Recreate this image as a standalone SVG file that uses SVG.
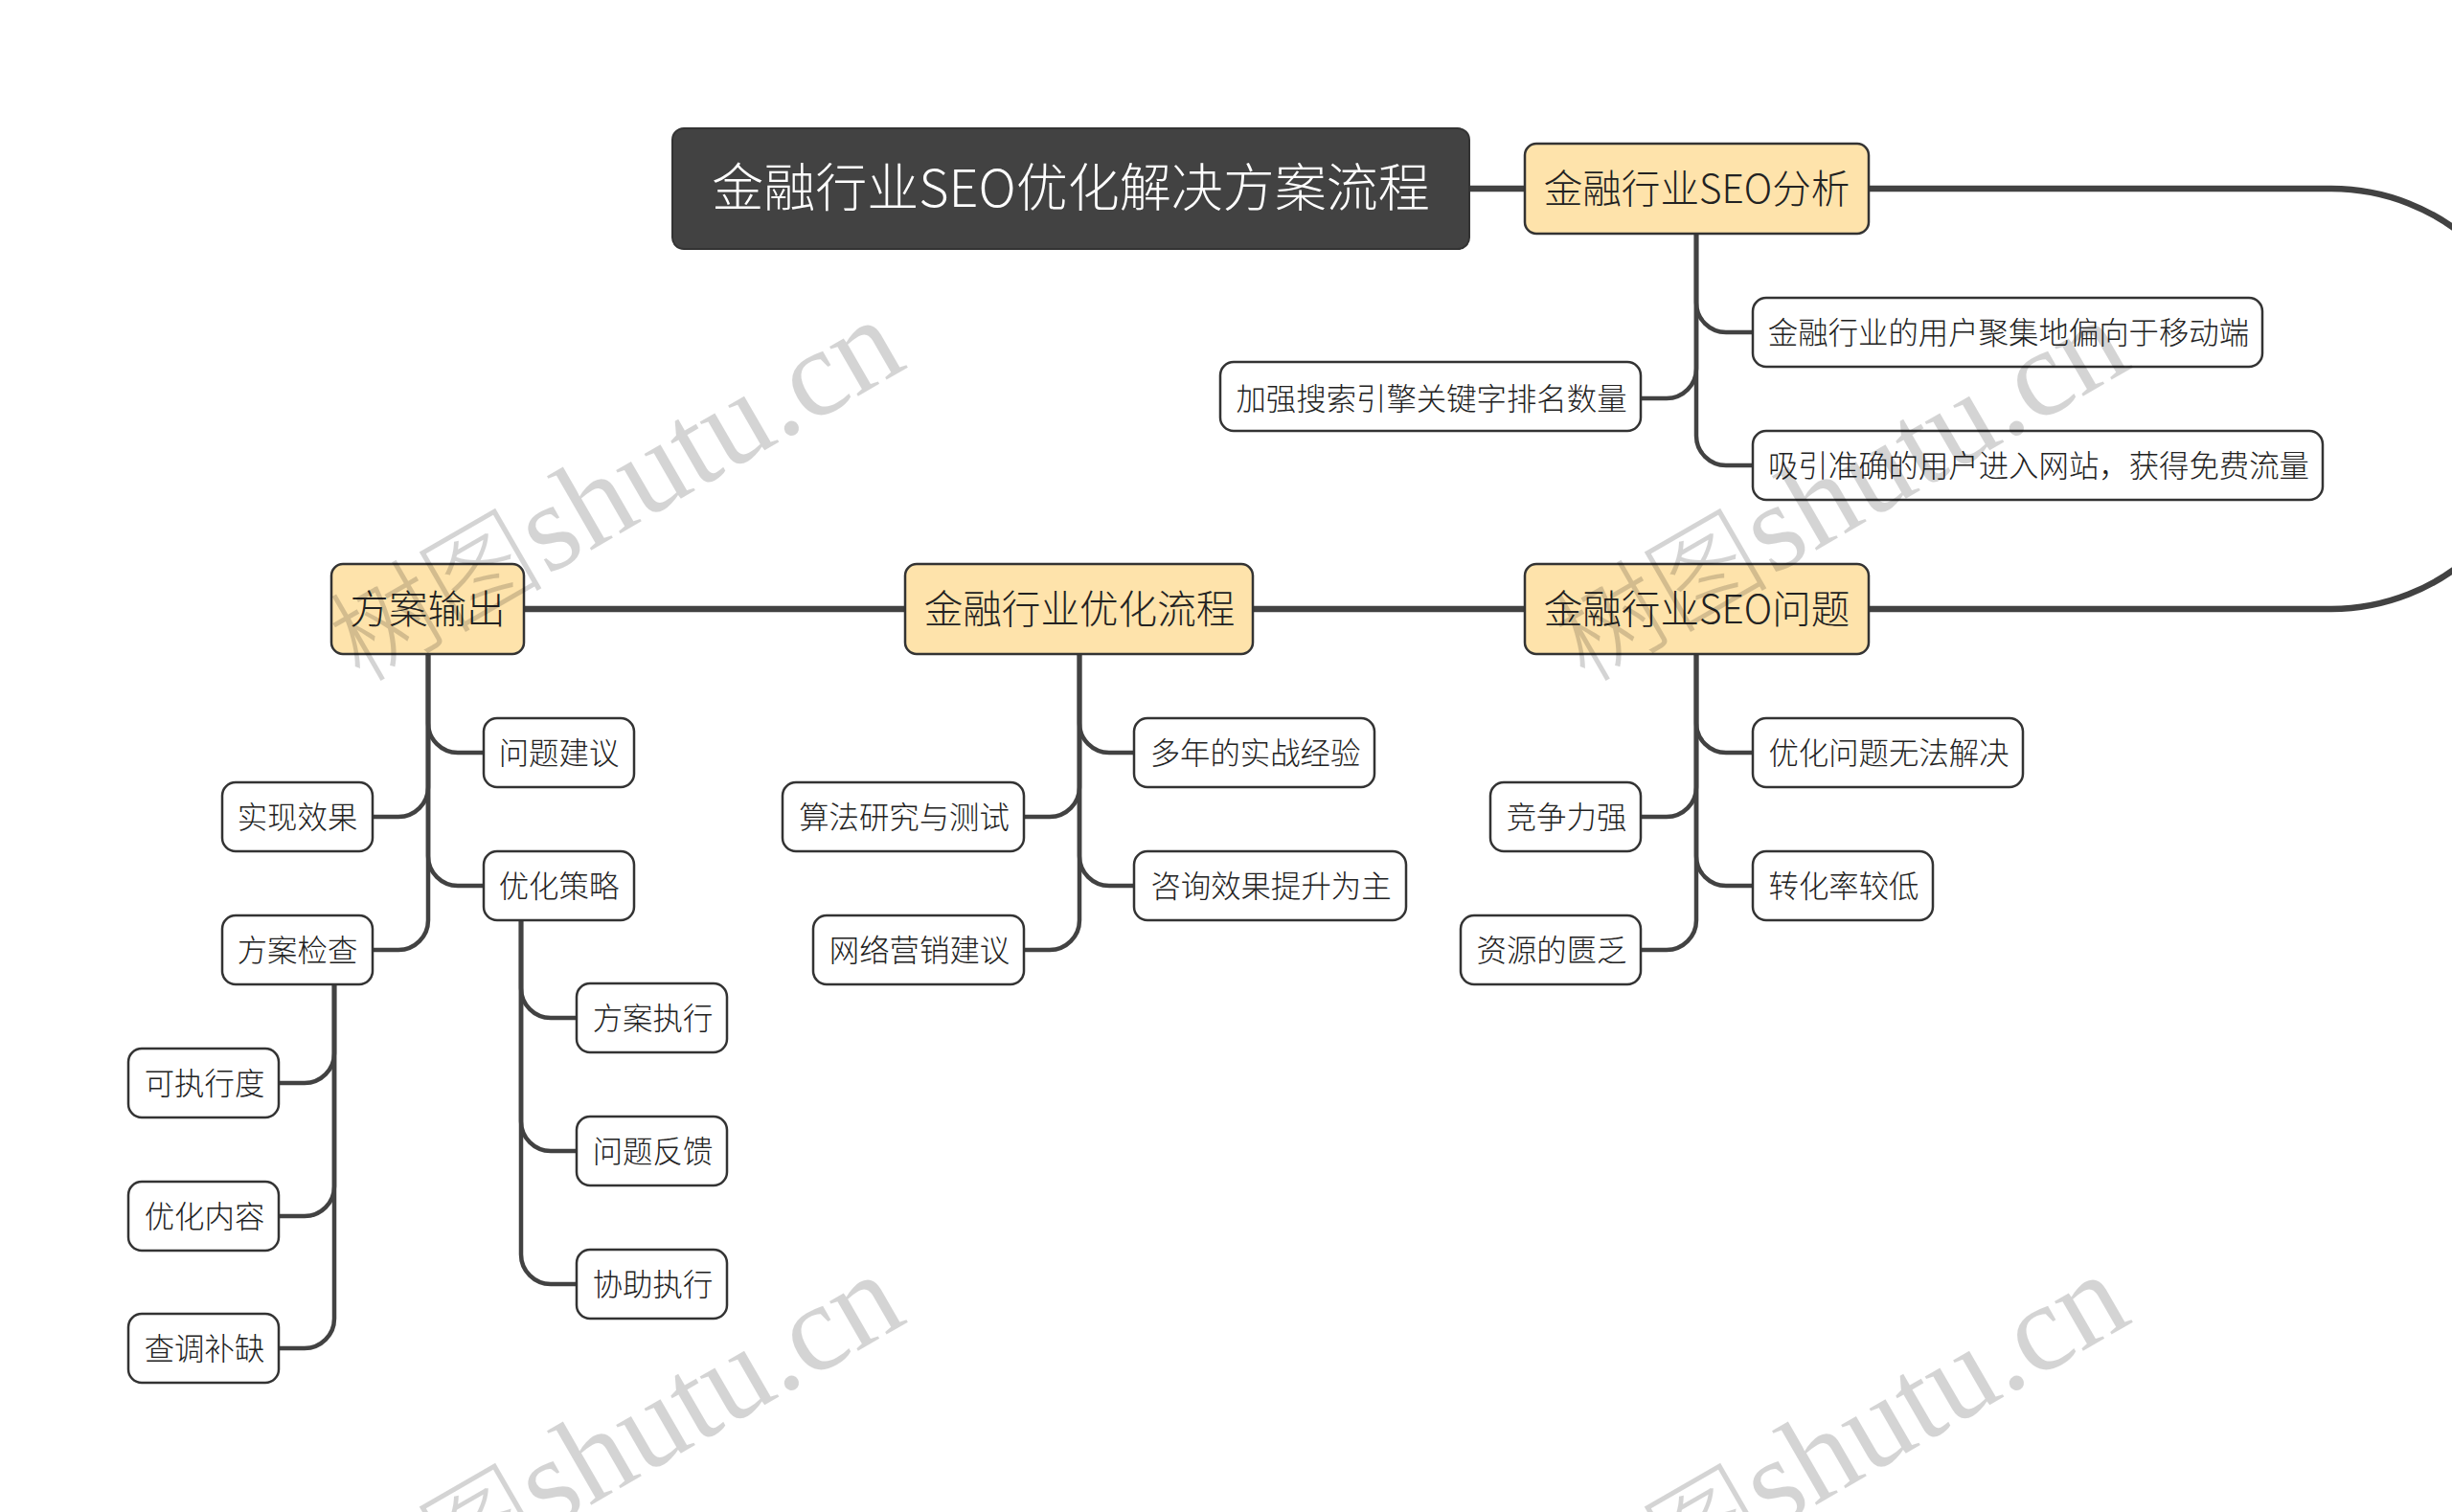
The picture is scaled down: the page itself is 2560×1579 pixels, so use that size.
<svg xmlns="http://www.w3.org/2000/svg" width="2560" height="1579" viewBox="0 0 2560 1579">
<style>
text{font-family:"Noto Sans CJK SC","Liberation Sans",sans-serif;text-anchor:middle;fill:#222}
.root rect{fill:#424242;stroke:#333;stroke-width:2}
.root text{fill:#fff;font-size:54px;font-weight:300}
.main rect{fill:#fee3ab;stroke:#333;stroke-width:2.5}
.main text{font-size:40.600px;font-weight:300}
.leaf rect{fill:#fff;stroke:#333;stroke-width:2.5}
.leaf text{font-size:31.4px;font-weight:300}
#connectors path{fill:none;stroke:#424242;stroke-width:4.500;stroke-linecap:round}
#connectors .thick{stroke-width:6.500}
.wm text{font-family:"Liberation Serif","Noto Sans CJK SC",serif;font-size:130px;text-anchor:start;fill:#000;fill-opacity:.17}
.wm tspan.cjk{font-family:"Noto Sans CJK SC",serif;font-size:112px;font-weight:300}
</style>
<rect width="2560" height="1579" fill="#fff"/>
<g id="connectors">
<path class="thick" d="M1535 197H1592"/>
<path class="thick" d="M1951 197H2434A219.500 219.500 0 0 1 2434 636H1951"/>
<path class="thick" d="M1592 636H1308"/>
<path class="thick" d="M945 636H547"/>
<path d="M1771 244V316A31 31 0 0 0 1802 347H1830"/>
<path d="M1771 244V385A31 31 0 0 1 1740 416H1713"/>
<path d="M1771 244V455A31 31 0 0 0 1802 486H1830"/>
<path d="M1771 683V755A31 31 0 0 0 1802 786H1830"/>
<path d="M1771 683V822A31 31 0 0 1 1740 853H1713"/>
<path d="M1771 683V894A31 31 0 0 0 1802 925H1830"/>
<path d="M1771 683V961A31 31 0 0 1 1740 992H1713"/>
<path d="M1127 683V755A31 31 0 0 0 1158 786H1184"/>
<path d="M1127 683V822A31 31 0 0 1 1096 853H1069"/>
<path d="M1127 683V894A31 31 0 0 0 1158 925H1184"/>
<path d="M1127 683V961A31 31 0 0 1 1096 992H1069"/>
<path d="M447 683V755A31 31 0 0 0 478 786H505"/>
<path d="M447 683V822A31 31 0 0 1 416 853H389"/>
<path d="M447 683V894A31 31 0 0 0 478 925H505"/>
<path d="M447 683V961A31 31 0 0 1 416 992H389"/>
<path d="M349 1028V1100A31 31 0 0 1 318 1131H291"/>
<path d="M349 1028V1239A31 31 0 0 1 318 1270H291"/>
<path d="M349 1028V1377A31 31 0 0 1 318 1408H291"/>
<path d="M544 961V1032A31 31 0 0 0 575 1063H602"/>
<path d="M544 961V1171A31 31 0 0 0 575 1202H602"/>
<path d="M544 961V1310A31 31 0 0 0 575 1341H602"/>
</g>
<g id="root" class="root"><rect x="702" y="134" width="832" height="126" rx="12"/><text x="1118" y="216">金融行业SEO优化解决方案流程</text></g>
<g id="n1" class="main"><rect x="1592" y="150" width="359" height="94" rx="12"/><text x="1771.500" y="211.500">金融行业SEO分析</text></g>
<g id="n2" class="main"><rect x="1592" y="589" width="359" height="94" rx="12"/><text x="1771.500" y="650.500">金融行业SEO问题</text></g>
<g id="n3" class="main"><rect x="945" y="589" width="363" height="94" rx="12"/><text x="1127" y="650.500">金融行业优化流程</text></g>
<g id="n4" class="main"><rect x="346" y="589" width="201" height="94" rx="12"/><text x="446.500" y="650.500">方案输出</text></g>
<g id="n1a" class="leaf"><rect x="1830" y="311" width="532" height="72" rx="14"/><text x="2097" y="359">金融行业的用户聚集地偏向于移动端</text></g>
<g id="n1b" class="leaf"><rect x="1274" y="378" width="439" height="72" rx="14"/><text x="1494.500" y="427.500">加强搜索引擎关键字排名数量</text></g>
<g id="n1c" class="leaf"><rect x="1830" y="450" width="595" height="72" rx="14"/><text x="2128.500" y="498">吸引准确的用户进入网站，获得免费流量</text></g>
<g id="n2a" class="leaf"><rect x="1830" y="750" width="282" height="72" rx="14"/><text x="1972" y="798">优化问题无法解决</text></g>
<g id="n2b" class="leaf"><rect x="1556" y="817" width="157" height="72" rx="14"/><text x="1635.500" y="865">竞争力强</text></g>
<g id="n2c" class="leaf"><rect x="1830" y="889" width="188" height="72" rx="14"/><text x="1925" y="937">转化率较低</text></g>
<g id="n2d" class="leaf"><rect x="1525" y="956" width="188" height="72" rx="14"/><text x="1620" y="1004">资源的匮乏</text></g>
<g id="n3a" class="leaf"><rect x="1184" y="750" width="251" height="72" rx="14"/><text x="1310.500" y="798">多年的实战经验</text></g>
<g id="n3b" class="leaf"><rect x="817" y="817" width="252" height="72" rx="14"/><text x="944" y="865">算法研究与测试</text></g>
<g id="n3c" class="leaf"><rect x="1184" y="889" width="284" height="72" rx="14"/><text x="1327" y="937">咨询效果提升为主</text></g>
<g id="n3d" class="leaf"><rect x="849" y="956" width="220" height="72" rx="14"/><text x="960" y="1004">网络营销建议</text></g>
<g id="n4a" class="leaf"><rect x="505" y="750" width="157" height="72" rx="14"/><text x="583.500" y="798">问题建议</text></g>
<g id="n4b" class="leaf"><rect x="232" y="817" width="157" height="72" rx="14"/><text x="310.500" y="865">实现效果</text></g>
<g id="n4c" class="leaf"><rect x="505" y="889" width="157" height="72" rx="14"/><text x="583.500" y="937">优化策略</text></g>
<g id="n4d" class="leaf"><rect x="232" y="956" width="157" height="72" rx="14"/><text x="310.500" y="1004">方案检查</text></g>
<g id="n4d1" class="leaf"><rect x="134" y="1095" width="157" height="72" rx="14"/><text x="213.500" y="1143">可执行度</text></g>
<g id="n4d2" class="leaf"><rect x="134" y="1234" width="157" height="72" rx="14"/><text x="213.500" y="1282">优化内容</text></g>
<g id="n4d3" class="leaf"><rect x="134" y="1372" width="157" height="72" rx="14"/><text x="213.500" y="1420">查调补缺</text></g>
<g id="n4c1" class="leaf"><rect x="602" y="1027" width="157" height="72" rx="14"/><text x="681.500" y="1075">方案执行</text></g>
<g id="n4c2" class="leaf"><rect x="602" y="1166" width="157" height="72" rx="14"/><text x="681.500" y="1214">问题反馈</text></g>
<g id="n4c3" class="leaf"><rect x="602" y="1305" width="157" height="72" rx="14"/><text x="681.500" y="1353">协助执行</text></g>
<g class="wm">
<text transform="translate(376 714) rotate(-30)"><tspan class="cjk">树图</tspan><tspan dx="-31"> shutu.cn</tspan></text>
<text transform="translate(1655 714) rotate(-30)"><tspan class="cjk">树图</tspan><tspan dx="-31"> shutu.cn</tspan></text>
<text transform="translate(376 1711) rotate(-30)"><tspan class="cjk">树图</tspan><tspan dx="-31"> shutu.cn</tspan></text>
<text transform="translate(1655 1711) rotate(-30)"><tspan class="cjk">树图</tspan><tspan dx="-31"> shutu.cn</tspan></text>
</g>
</svg>
